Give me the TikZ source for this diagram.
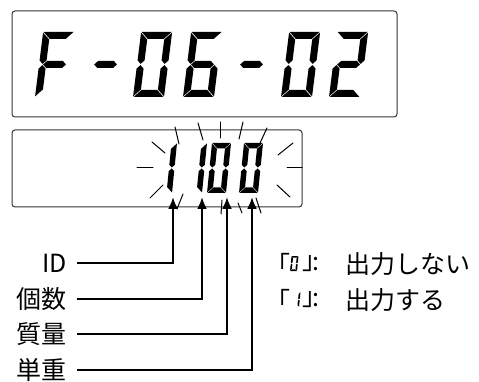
\documentclass[tikz,border=0pt]{standalone}
\usepackage{fontspec}
\setmainfont{Noto Sans CJK JP}
\usetikzlibrary{arrows.meta}
\newcommand\segA{\fill (\sG,-\sH) -- (\sW-\sG,-\sH) -- (\sW-\sT-\sG,-\sH+\sT) -- (\sT+\sG,-\sH+\sT) -- cycle;}
\newcommand\segB{\fill (\sW,-\sH+\sG) -- (\sW,\sM-\sT/2-\sG) -- (\sW-\sT/2,\sM-\sG) -- (\sW-\sT,\sM-\sT/2-\sG) -- (\sW-\sT,-\sH+\sT+\sG) -- cycle;}
\newcommand\segC{\fill (\sW,-\sG) -- (\sW,\sM+\sT/2+\sG) -- (\sW-\sT/2,\sM+\sG) -- (\sW-\sT,\sM+\sT/2+\sG) -- (\sW-\sT,-\sT-\sG) -- cycle;}
\newcommand\segD{\fill (\sG,0) -- (\sW-\sG,0) -- (\sW-\sT-\sG,-\sT) -- (\sT+\sG,-\sT) -- cycle;}
\newcommand\segE{\fill (0,-\sG) -- (0,\sM+\sT/2+\sG) -- (\sT/2,\sM+\sG) -- (\sT,\sM+\sT/2+\sG) -- (\sT,-\sT-\sG) -- cycle;}
\newcommand\segF{\fill (0,-\sH+\sG) -- (0,\sM-\sT/2-\sG) -- (\sT/2,\sM-\sG) -- (\sT,\sM-\sT/2-\sG) -- (\sT,-\sH+\sT+\sG) -- cycle;}
\newcommand\segG{\fill (\sT/2+\sG,\sM) -- (\sT+\sG,\sM-\sT/2) -- (\sW-\sT-\sG,\sM-\sT/2) -- (\sW-\sT/2-\sG,\sM) -- (\sW-\sT-\sG,\sM+\sT/2) -- (\sT+\sG,\sM+\sT/2) -- cycle;}
\newcommand\lcd[3]{\begin{scope}[shift={(#1,#2)},xslant=\sS]#3\end{scope}}
\newcommand\lcdsize[5]{\def\sW{#1}\def\sH{#2}\def\sT{#3}\def\sG{#4}\def\sS{#5}\pgfmathsetmacro\sM{-#2/2}}
\tikzset{
  box/.style={draw=black!80,line width=1pt,rounded corners=3pt},
  ray/.style={line width=1pt,line cap=round},
  conn/.style={line width=2.2pt,-{Latex[length=12pt,width=10pt]}},
  lbl/.style={anchor=east,inner xsep=10pt,inner ysep=0pt,font=\fontsize{25}{30}\selectfont},
  rt/.style={inner sep=0pt,font=\fontsize{25}{30}\selectfont}
}
\begin{document}
\begin{tikzpicture}[x=1pt,y=-1pt]
\useasboundingbox (0,0) rectangle (479,382);
% boxes
\draw[box] (12,11) rectangle (397,117);
\draw[box] (12,130) rectangle (302,207);
% top display F-06-02
\lcdsize{31}{65}{7}{0.6}{0.125}
\lcd{35}{97}{\segA\segF\segE\segG}
\lcd{86}{97}{\segG}
\lcd{133}{97}{\segA\segB\segC\segD\segE\segF}
\lcd{183}{97}{\segA\segF\segG\segE\segD\segC}
\lcd{232}{97}{\segG}
\lcd{281}{97}{\segA\segB\segC\segD\segE\segF}
\lcd{329}{97}{\segA\segB\segG\segE\segD}
% bottom display 1100
\lcdsize{19}{50}{5.5}{0.45}{0.1}
\lcd{153}{193}{\segB\segC}
\lcd{183}{193}{\segB\segC}
\lcd{207}{193}{\segA\segB\segC\segD\segE\segF}
\lcd{239}{193}{\segA\segB\segC\segD\segE\segF}
% flashing rays
\draw[ray] (175,127) -- (179,144);
\draw[ray] (198,123) -- (203,140);
\draw[ray] (220,122) -- (220,138);
\draw[ray] (243,122) -- (239,139);
\draw[ray] (267,128) -- (260,143);
\draw[ray] (152,142) -- (165,153);
\draw[ray] (137,168) -- (153,168);
\draw[ray] (150,198) -- (163,185);
\draw[ray] (293,143) -- (278,155);
\draw[ray] (287,168) -- (302,168);
\draw[ray] (277,185) -- (290,197);
\draw[ray] (183,194) -- (177,209);
\draw[ray] (222,200) -- (221,214);
\draw[ray] (238,203) -- (242,213);
\draw[ray] (256,198) -- (261,213);
% targets
\coordinate (t1) at (173,197);
\coordinate (t2) at (202,197);
\coordinate (t3) at (227,197);
\coordinate (t4) at (252,197);
% labels
\node[lbl] (id) at (77,263) {ID};
\node[lbl] (ko) at (77,299) {個数};
\node[lbl] (sh) at (77,334) {質量};
\node[lbl] (ta) at (77,370) {単重};
\draw[conn] (id.east) -| (t1);
\draw[conn] (ko.east) -| (t2);
\draw[conn] (sh.east) -| (t3);
\draw[conn] (ta.east) -| (t4);
% legend
\node[rt,anchor=east] (q0) at (291,264) {「};
\lcdsize{7}{15}{1.7}{0.25}{0.1}
\lcd{290}{271}{\segA\segB\segC\segD\segE\segF}
\node[rt,anchor=west] (c0) at (302,264) {」};
\node[rt,anchor=west] (k0) at (312,264) {:};
\node[rt,anchor=west] (t0) at (345,264) {出力しない};
\node[rt,anchor=east] (q1) at (291,300) {「};
\lcd{292}{307}{\segB\segC}
\node[rt,anchor=west] (c1) at (302,300) {」};
\node[rt,anchor=west] (k1) at (312,300) {:};
\node[rt,anchor=west] (t1x) at (345,300) {出力する};
\end{tikzpicture}
\end{document}
